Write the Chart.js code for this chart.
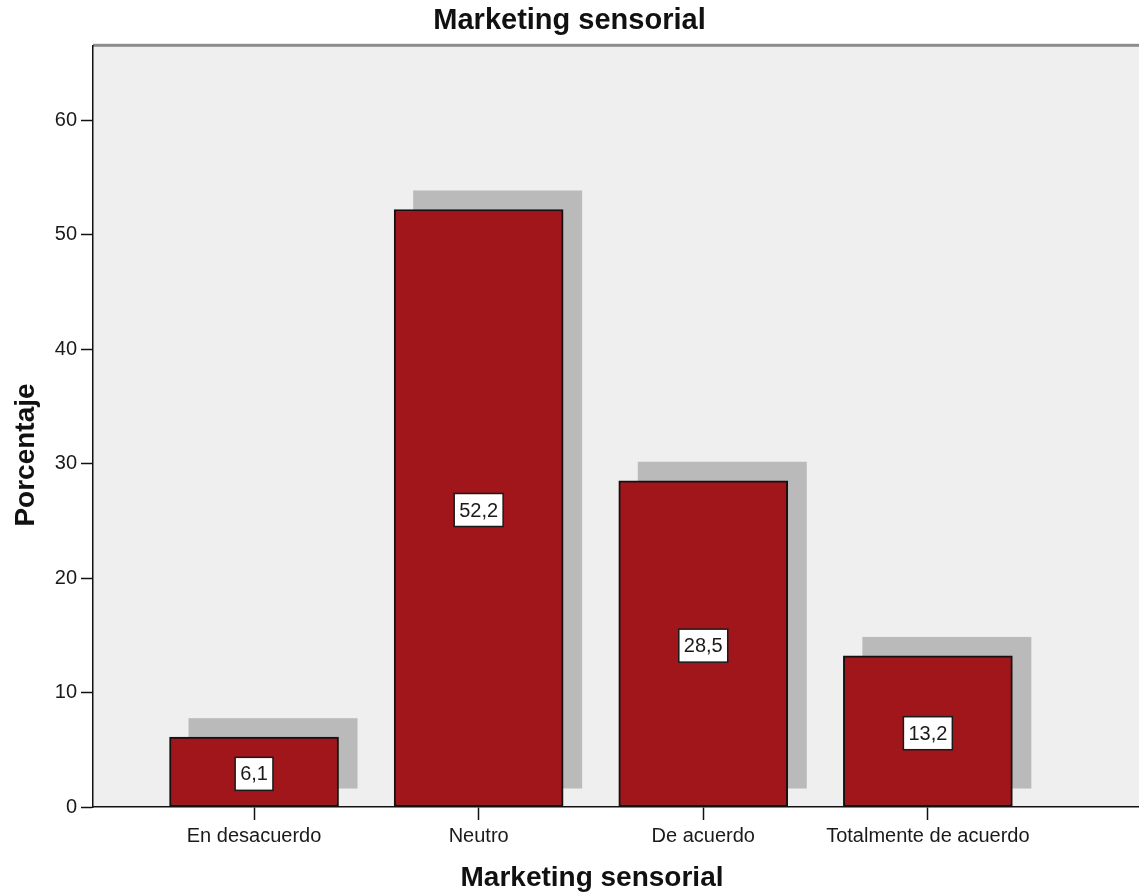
<!DOCTYPE html>
<html>
<head>
<meta charset="utf-8">
<script src="https://cdn.jsdelivr.net/npm/chart.js@4/dist/chart.umd.min.js"></script>
<style>
  html, body { margin: 0; padding: 0; background: #ffffff; }
  #wrap { width: 1139px; height: 895px; }
</style>
</head>
<body>
<div id="wrap"><canvas id="c" width="1139" height="895"></canvas></div>
<script>
// Response categories and the share of respondents in each (%)
const categories = ['En desacuerdo', 'Neutro', 'De acuerdo', 'Totalmente de acuerdo'];
const percentages = [6.1, 52.2, 28.5, 13.2];
const yTicks = [0, 10, 20, 30, 40, 50, 60];
const chartTitle = 'Marketing sensorial';
const xTitle = 'Marketing sensorial';
const yTitle = 'Porcentaje';

const FONT = '"Liberation Sans", Arial, Helvetica, sans-serif';
const BAR_RED = '#a0161a';
const SHADOW = '#bababa';
const PLOT_BG = '#efefef';

// Plot background and the grey frame line along the top
const plotFrame = {
  id: 'plotFrame',
  beforeDraw(chart) {
    const { ctx, chartArea: a } = chart;
    ctx.save();
    ctx.fillStyle = PLOT_BG;
    ctx.fillRect(a.left, a.top, a.right - a.left, a.bottom - a.top);
    ctx.fillStyle = '#8c8c8c';
    ctx.fillRect(a.left, a.top - 2, a.right - a.left, 3);
    ctx.restore();
  }
};

// Drop shadow behind each bar: the bar rectangle shifted right and up
const barShadow = {
  id: 'barShadow',
  beforeDatasetsDraw(chart) {
    const { ctx, chartArea: a } = chart;
    const meta = chart.getDatasetMeta(0);
    ctx.save();
    ctx.beginPath();
    ctx.rect(a.left, a.top, a.right - a.left, a.bottom - a.top);
    ctx.clip();
    ctx.fillStyle = SHADOW;
    meta.data.forEach(bar => {
      const p = bar.getProps(['x', 'y', 'base', 'width'], true);
      const dx = 19, dy = 19;
      ctx.fillRect(p.x - p.width / 2 + dx, p.y - dy, p.width, (p.base - 18) - (p.y - dy));
    });
    ctx.restore();
  }
};

// Boxed value labels in the middle of each bar
const valueBoxes = {
  id: 'valueBoxes',
  afterDatasetsDraw(chart) {
    const { ctx } = chart;
    const meta = chart.getDatasetMeta(0);
    const ds = chart.data.datasets[0];
    ctx.save();
    ctx.font = '20px ' + FONT;
    ctx.textAlign = 'center';
    ctx.textBaseline = 'middle';
    meta.data.forEach((bar, i) => {
      const p = bar.getProps(['x', 'y', 'base'], true);
      const txt = ds.data[i].y.toFixed(1).replace('.', ',');
      const w = ctx.measureText(txt).width + 10;
      const h = 33;
      const cx = p.x;
      const cy = (p.y + p.base) / 2 + 2;
      ctx.fillStyle = '#ffffff';
      ctx.fillRect(cx - w / 2, cy - h / 2, w, h);
      ctx.strokeStyle = '#1a1a1a';
      ctx.lineWidth = 1.5;
      ctx.strokeRect(cx - w / 2, cy - h / 2, w, h);
      ctx.fillStyle = '#1a1a1a';
      ctx.fillText(txt, cx, cy + 1);
    });
    ctx.restore();
  }
};

// Axis titles
const axisTitles = {
  id: 'axisTitles',
  afterDraw(chart) {
    const { ctx } = chart;
    ctx.save();
    ctx.fillStyle = '#111111';
    ctx.textAlign = 'center';
    ctx.textBaseline = 'alphabetic';
    ctx.font = 'bold 28px ' + FONT;
    ctx.fillText(xTitle, 592, 886);
    ctx.translate(34, 455);
    ctx.rotate(-Math.PI / 2);
    ctx.fillText(yTitle, 0, 0);
    ctx.restore();
  }
};

// Category positions on a numeric x axis (one unit per category)
const xMin = -0.717;
const xMax = 3.94;

new Chart(document.getElementById('c'), {
  type: 'bar',
  data: {
    datasets: [{
      data: categories.map((c, i) => ({ x: i, y: percentages[i] })),
      backgroundColor: BAR_RED,
      borderColor: '#161010',
      borderWidth: 2,
      borderSkipped: false,
      barThickness: 169
    }]
  },
  options: {
    responsive: false,
    animation: false,
    layout: { padding: 0 },
    plugins: {
      legend: { display: false },
      tooltip: { enabled: false },
      title: {
        display: true,
        text: chartTitle,
        color: '#111111',
        font: { family: FONT, size: 29, weight: 'bold' },
        padding: { top: 4, bottom: 7 }
      }
    },
    scales: {
      x: {
        type: 'linear',
        min: xMin,
        max: xMax,
        offset: false,
        afterFit(scale) { scale.height = 88; },
        afterBuildTicks(scale) { scale.ticks = categories.map((c, i) => ({ value: i })); },
        ticks: {
          autoSkip: false,
          maxRotation: 0,
          padding: 4,
          color: '#1a1a1a',
          font: { family: FONT, size: 20 },
          callback: v => categories[v]
        },
        grid: {
          offset: false,
          drawOnChartArea: false,
          drawTicks: true,
          tickLength: 13,
          tickColor: '#111111',
          tickWidth: 1.5
        },
        border: { display: true, color: '#111111', width: 1.5 }
      },
      y: {
        min: 0,
        max: 66.5,
        afterFit(scale) { scale.width = 93; },
        afterBuildTicks(scale) { scale.ticks = yTicks.map(v => ({ value: v })); },
        ticks: {
          padding: 4,
          color: '#1a1a1a',
          font: { family: FONT, size: 20 }
        },
        grid: {
          drawOnChartArea: false,
          drawTicks: true,
          tickLength: 12,
          tickColor: '#111111',
          tickWidth: 1.5
        },
        border: { display: true, color: '#111111', width: 1.5 }
      }
    }
  },
  plugins: [plotFrame, barShadow, valueBoxes, axisTitles]
});
</script>
</body>
</html>
